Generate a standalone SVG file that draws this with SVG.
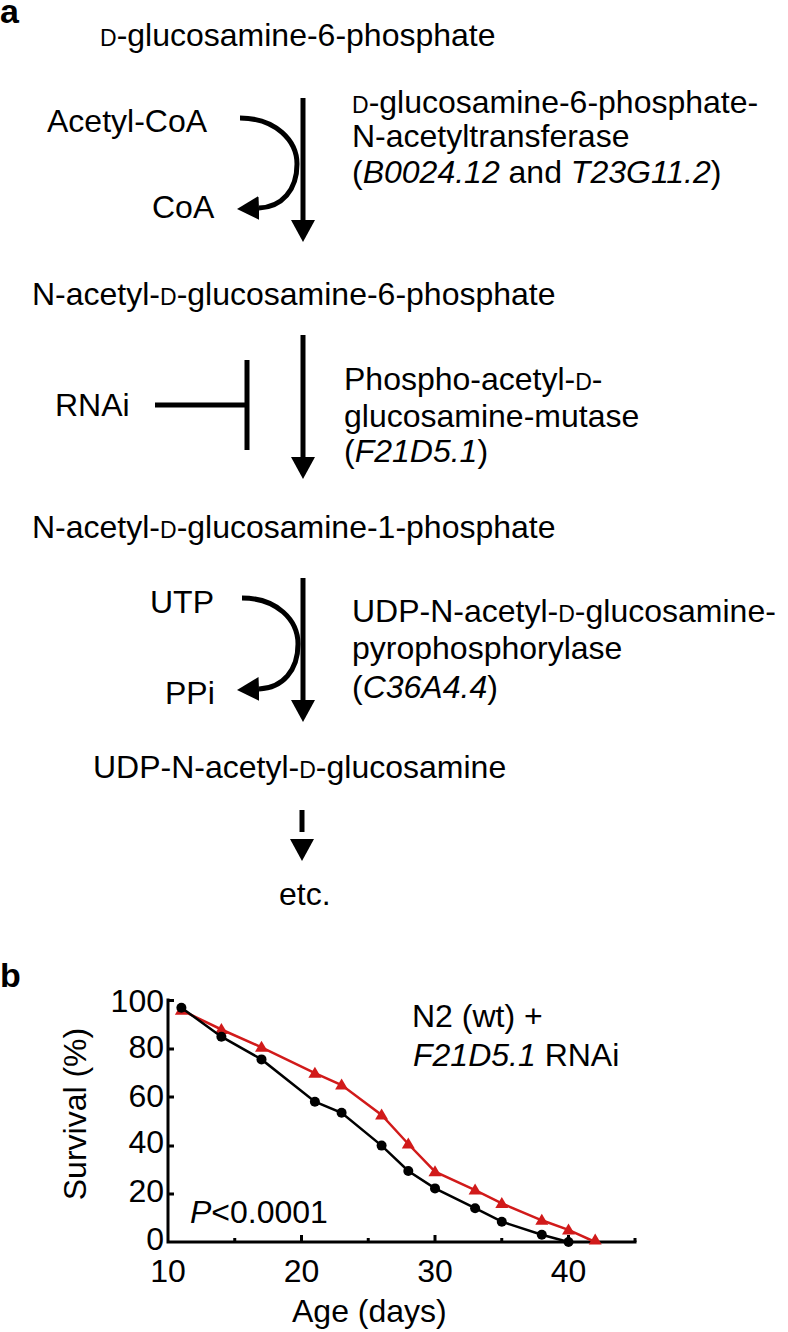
<svg xmlns="http://www.w3.org/2000/svg" xmlns:xlink="http://www.w3.org/1999/xlink" width="788" height="1332" viewBox="0 0 788 1332">
<style>
.t{font-family:"Liberation Sans",Arial,Helvetica,sans-serif;font-size:32px;fill:#000}
.lbl{font-family:"Liberation Sans",Arial,Helvetica,sans-serif;font-size:34px;font-weight:bold;fill:#000}
.sc{font-size:23px}
.i{font-style:italic}
.ln{fill:none;stroke:#000;stroke-width:5}
.ax{fill:none;stroke:#000;stroke-width:3;stroke-linecap:square}
.tk{fill:none;stroke:#000;stroke-width:3}
.sb{fill:none;stroke:#000;stroke-width:2.5}
.sr{fill:none;stroke:#d11a1a;stroke-width:2.5}
</style>
<defs>
<marker id="ah" markerUnits="userSpaceOnUse" viewBox="0 0 22 24" refX="0" refY="12" markerWidth="22" markerHeight="24" orient="auto">
<path d="M0,0 L22,12 L0,24 Z" fill="#000"/>
</marker>
<circle id="dot" r="5" fill="#000"/>
<path id="tri" d="M0,-6.5 L6.5,4.5 L-6.5,4.5 Z" fill="#d11a1a"/>
</defs>
<rect width="788" height="1332" fill="#fff"/>

<text class="lbl" x="0" y="23">a</text>
<text class="lbl" x="0" y="987">b</text>

<g id="glcn6p"><text class="t" x="100" y="46"><tspan class="sc">D</tspan>-glucosamine-6-phosphate</text></g>
<g id="glcnac6p"><text class="t" x="32" y="305">N-acetyl-<tspan class="sc">D</tspan>-glucosamine-6-phosphate</text></g>
<g id="glcnac1p"><text class="t" x="32" y="538">N-acetyl-<tspan class="sc">D</tspan>-glucosamine-1-phosphate</text></g>
<g id="udpglcnac"><text class="t" x="93" y="778">UDP-N-acetyl-<tspan class="sc">D</tspan>-glucosamine</text></g>
<g id="etc"><text class="t" x="279" y="905">etc.</text></g>

<g id="acetylcoa"><text class="t" x="47" y="132">Acetyl-CoA</text></g>
<g id="coa"><text class="t" x="152" y="218">CoA</text></g>
<g id="rnai"><text class="t" x="55" y="416">RNAi</text></g>
<g id="utp"><text class="t" x="150" y="613">UTP</text></g>
<g id="ppi"><text class="t" x="165" y="704">PPi</text></g>

<g id="enzyme1">
<text class="t" x="352" y="113"><tspan class="sc">D</tspan>-glucosamine-6-phosphate-</text>
<text class="t" x="352" y="147">N-acetyltransferase</text>
<text class="t" x="352" y="183">(<tspan class="i">B0024.12</tspan> and <tspan class="i">T23G11.2</tspan>)</text>
</g>
<g id="enzyme2">
<text class="t" x="344" y="390">Phospho-acetyl-<tspan class="sc">D</tspan>-</text>
<text class="t" x="344" y="427">glucosamine-mutase</text>
<text class="t" x="344" y="462">(<tspan class="i">F21D5.1</tspan>)</text>
</g>
<g id="enzyme3">
<text class="t" x="352" y="622">UDP-N-acetyl-<tspan class="sc">D</tspan>-glucosamine-</text>
<text class="t" x="352" y="659">pyrophosphorylase</text>
<text class="t" x="352" y="698">(<tspan class="i">C36A4.4</tspan>)</text>
</g>

<g id="connectors">
<path class="ln" d="M303,98 V220" marker-end="url(#ah)"/>
<path class="ln" d="M303,335 V457" marker-end="url(#ah)"/>
<path class="ln" d="M303,578 V700" marker-end="url(#ah)"/>
<path class="ln" d="M302,810 V839" stroke-dasharray="22 100" stroke-width="6" marker-end="url(#ah)"/>
<path class="ln" d="M240,118 C276,118 297,141 297,164 C297,190 282,207 259,208" marker-end="url(#ah)"/>
<path class="ln" d="M242,598 C277,598 298,620 298,644 C298,670 283,688 259,689" marker-end="url(#ah)"/>
<path class="ln" d="M155,405 H247 M247,360 V450"/>
</g>

<g id="chart">
<path class="ax" d="M168,1000 V1242 H635"/>
<path class="tk" d="M168,1000.5 H174 M168,1049 H174 M168,1097 H174 M168,1146 H174 M168,1194 H174"/>
<path class="tk" d="M234.75,1242 V1238 M301.5,1242 V1235 M368.25,1242 V1238 M435,1242 V1235 M501.75,1242 V1238 M568.5,1242 V1235 M635,1242 V1238"/>
<g class="t" text-anchor="end">
<text x="164" y="1012">100</text>
<text x="164" y="1058">80</text>
<text x="164" y="1107">60</text>
<text x="164" y="1153">40</text>
<text x="164" y="1202">20</text>
<text x="164" y="1250">0</text>
</g>
<g class="t" text-anchor="middle">
<text x="168" y="1282">10</text>
<text x="301.5" y="1282">20</text>
<text x="435" y="1282">30</text>
<text x="568.5" y="1282">40</text>
</g>
<text class="t" text-anchor="middle" transform="translate(86,1114) rotate(-90)">Survival (%)</text>
<text class="t" x="292" y="1322">Age (days)</text>
<text class="t" x="190" y="1223"><tspan class="i">P</tspan>&lt;0.0001</text>
<text class="t" x="412" y="1027">N2 (wt) +</text>
<text class="t" x="413" y="1066"><tspan class="i">F21D5.1</tspan> RNAi</text>

<polyline class="sr" points="181.4,1010.2 221.4,1029.5 261.5,1047.3 314.9,1073.2 341.6,1085 381.6,1115 408.3,1144 435,1171.7 475.1,1190.1 501.8,1203.4 541.8,1220.3 568.5,1229.9 595.2,1242"/>
<g id="red-markers">
<use xlink:href="#tri" x="181.4" y="1010.2"/>
<use xlink:href="#tri" x="221.4" y="1029.5"/>
<use xlink:href="#tri" x="261.5" y="1047.3"/>
<use xlink:href="#tri" x="314.9" y="1073.2"/>
<use xlink:href="#tri" x="341.6" y="1085"/>
<use xlink:href="#tri" x="381.6" y="1115"/>
<use xlink:href="#tri" x="408.3" y="1144"/>
<use xlink:href="#tri" x="435" y="1171.7"/>
<use xlink:href="#tri" x="475.1" y="1190.1"/>
<use xlink:href="#tri" x="501.8" y="1203.4"/>
<use xlink:href="#tri" x="541.8" y="1220.3"/>
<use xlink:href="#tri" x="568.5" y="1229.9"/>
<use xlink:href="#tri" x="595.2" y="1240"/>
</g>
<polyline class="sb" points="181.4,1007.7 221.4,1036.7 261.5,1059.4 314.9,1101.7 341.6,1112.8 381.6,1145.6 408.3,1171 435,1188.4 475.1,1208.2 501.8,1221.7 541.8,1234.8 568.5,1242"/>
<g id="black-markers">
<use xlink:href="#dot" x="181.4" y="1007.7"/>
<use xlink:href="#dot" x="221.4" y="1036.7"/>
<use xlink:href="#dot" x="261.5" y="1059.4"/>
<use xlink:href="#dot" x="314.9" y="1101.7"/>
<use xlink:href="#dot" x="341.6" y="1112.8"/>
<use xlink:href="#dot" x="381.6" y="1145.6"/>
<use xlink:href="#dot" x="408.3" y="1171"/>
<use xlink:href="#dot" x="435" y="1188.4"/>
<use xlink:href="#dot" x="475.1" y="1208.2"/>
<use xlink:href="#dot" x="501.8" y="1221.7"/>
<use xlink:href="#dot" x="541.8" y="1234.8"/>
<use xlink:href="#dot" x="568.5" y="1242"/>
</g>
</g>
</svg>
